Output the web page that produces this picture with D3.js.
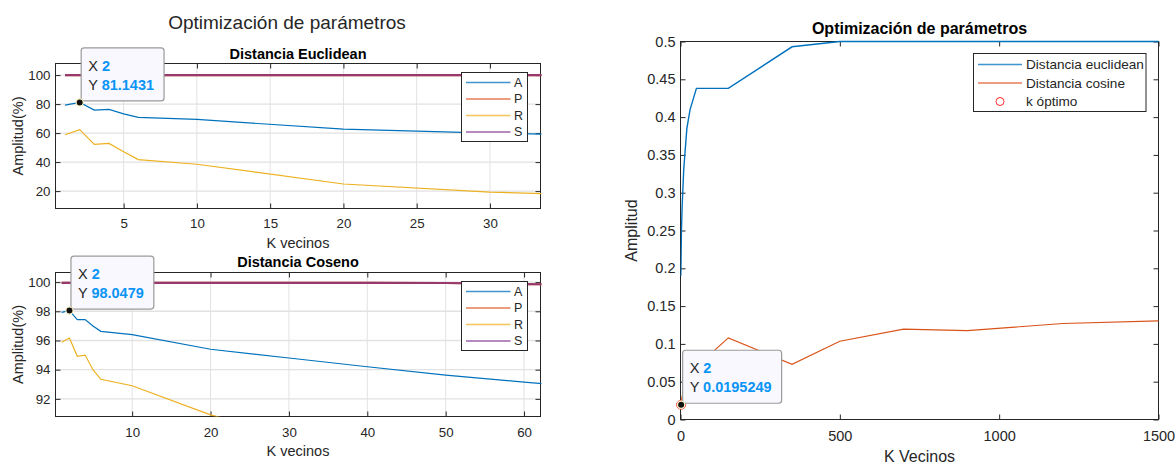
<!DOCTYPE html>
<html>
<head>
<meta charset="utf-8">
<script src="https://cdn.jsdelivr.net/npm/d3@7"></script>
<style>
  body { margin: 0; background: #fff; }
  svg text { font-family: "Liberation Sans", Arial, sans-serif; fill: #262626; }
</style>
</head>
<body>
<svg id="chart" width="1175" height="466"></svg>
<script>
// ---- data ----
// top left: Distancia Euclidean
var kEuc = [1, 2, 3, 4, 5, 6, 10, 20, 30, 40];
var eucA = [79.3, 81.1431, 75.9, 76.3, 73.3, 70.8, 69.4, 62.7, 60.0, 58.0];
var eucP = [100, 100, 100, 100, 100, 100, 100, 100, 100, 100];
var eucR = [58.9, 62.4, 52.2, 52.9, 47.2, 41.7, 38.5, 24.9, 19.3, 16.5];
var eucS = [100, 100, 100, 100, 100, 100, 100, 100, 100, 100];

// bottom left: Distancia Coseno
var kCos = [1, 2, 3, 4, 5, 6, 10, 20, 30, 40, 50, 60, 70];
var cosA = [97.93, 98.0479, 97.43, 97.43, 97.0, 96.63, 96.4, 95.4, 94.8, 94.2, 93.62, 93.15, 92.7];
var cosP = [99.95, 99.95, 99.95, 99.95, 99.95, 99.95, 99.95, 99.95, 99.95, 99.95, 99.94, 99.87, 99.8];
var cosR = [95.88, 96.17, 94.92, 95.0, 94.0, 93.34, 92.9, 90.9, 89.5, 88.4, 87.5, 86.8, 86.2];
var cosS = [99.95, 99.95, 99.95, 99.95, 99.95, 99.95, 99.95, 99.95, 99.95, 99.95, 99.94, 99.87, 99.8];

// right: Optimizacion de parametros
var kAll = [1, 2, 3, 5, 10, 20, 30, 50, 150, 350, 500, 700, 900, 1200, 1500];
var ampEuclid = [0.19, 0.22, 0.25, 0.28, 0.33, 0.385, 0.41, 0.438, 0.438, 0.493, 0.5, 0.5, 0.5, 0.5, 0.5];
var ampCosine = [0.021, 0.0195249, 0.024, 0.03, 0.04, 0.05, 0.06, 0.07, 0.108, 0.0731, 0.1035, 0.1195, 0.1175, 0.127, 0.1305];
var kOpt = 2, ampOpt = 0.0195249;

// tick labels
var topXTicks = [5, 10, 15, 20, 25, 30];
var topYTicks = [20, 40, 60, 80, 100];
var botXTicks = [10, 20, 30, 40, 50, 60];
var botYTicks = [92, 94, 96, 98, 100];
var rightXTicks = [0, 500, 1000, 1500];
var rightYTicks = [0, 0.05, 0.1, 0.15, 0.2, 0.25, 0.3, 0.35, 0.4, 0.45, 0.5];
var legendNames = ["A", "P", "R", "S"];

var colors = { A: "#0072BD", P: "#D95319", R: "#EDB120", S: "#7E2F8E" };
var ink = "#262626";

var svg = d3.select("#chart");

function drawPanel(o) {
  var g = svg.append("g");
  var x = d3.scaleLinear().domain(o.xDomain).range([o.x0, o.x1]);
  var y = d3.scaleLinear().domain(o.yDomain).range([o.y1, o.y0]);

  if (o.grid) {
    g.append("g").selectAll("line").data(o.xTicks).join("line")
      .attr("x1", function(d) { return x(d); }).attr("x2", function(d) { return x(d); })
      .attr("y1", o.y0).attr("y2", o.y1)
      .attr("stroke", "#e2e2e2").attr("stroke-width", 1);
    g.append("g").selectAll("line").data(o.yTicks).join("line")
      .attr("y1", function(d) { return y(d); }).attr("y2", function(d) { return y(d); })
      .attr("x1", o.x0).attr("x2", o.x1)
      .attr("stroke", "#e2e2e2").attr("stroke-width", 1.4);
  }

  var fmt = o.fmt || function(d) { return d; };
  function styleAxis(a) {
    a.select(".domain").remove();
    a.attr("font-family", null).attr("font-size", o.tickFont).attr("color", ink);
  }
  g.append("g").attr("transform", "translate(0," + o.y1 + ")")
    .call(d3.axisBottom(x).tickValues(o.xTicks).tickSize(-o.tick).tickPadding(o.xPad).tickFormat(fmt))
    .call(styleAxis);
  g.append("g").attr("transform", "translate(0," + o.y0 + ")")
    .call(d3.axisTop(x).tickValues(o.xTicks).tickSize(-o.tick).tickFormat(""))
    .call(styleAxis);
  g.append("g").attr("transform", "translate(" + o.x0 + ",0)")
    .call(d3.axisLeft(y).tickValues(o.yTicks).tickSize(-o.tick).tickPadding(o.yPad).tickFormat(o.yFmt || fmt))
    .call(styleAxis);
  g.append("g").attr("transform", "translate(" + o.x1 + ",0)")
    .call(d3.axisRight(y).tickValues(o.yTicks).tickSize(-o.tick).tickFormat(""))
    .call(styleAxis);

  g.append("rect")
    .attr("x", o.x0).attr("y", o.y0)
    .attr("width", o.x1 - o.x0).attr("height", o.y1 - o.y0)
    .attr("fill", "none").attr("stroke", ink).attr("stroke-width", 1);

  var clipId = "clip" + Math.round(o.y0) + "_" + Math.round(o.x0);
  svg.append("clipPath").attr("id", clipId).append("rect")
    .attr("x", o.x0).attr("y", o.y0 - 1.5)
    .attr("width", o.x1 - o.x0 + 1).attr("height", o.y1 - o.y0 + 1.5);

  var lines = g.append("g").attr("clip-path", "url(#" + clipId + ")");
  o.series.forEach(function(s) {
    var line = d3.line().x(function(d, i) { return x(o.k[i]); }).y(function(d) { return y(d); });
    lines.append("path").datum(s.values)
      .attr("d", line)
      .attr("fill", "none")
      .attr("stroke", s.color)
      .attr("stroke-width", s.width || 1.2)
      .attr("stroke-opacity", s.opacity || 1);
  });

  // titles
  g.append("text").attr("x", (o.x0 + o.x1) / 2).attr("y", o.titleY)
    .attr("text-anchor", "middle").attr("dominant-baseline", "central")
    .attr("font-weight", "bold").attr("font-size", o.titleFont).style("fill", "#000")
    .text(o.title);
  g.append("text").attr("x", (o.x0 + o.x1) / 2).attr("y", o.xLabelY)
    .attr("text-anchor", "middle").attr("dominant-baseline", "central")
    .attr("font-size", o.labelFont)
    .text(o.xLabel);
  g.append("text")
    .attr("transform", "translate(" + o.yLabelX + "," + ((o.y0 + o.y1) / 2) + ") rotate(-90)")
    .attr("text-anchor", "middle").attr("dominant-baseline", "central")
    .attr("font-size", o.labelFont)
    .text(o.yLabel);

  return { g: g, x: x, y: y };
}

function drawLegend(g, lx, ly, w, h, names, cols, rowY, lineX0, lineX1, textX, fontSize) {
  g.append("rect").attr("x", lx).attr("y", ly).attr("width", w).attr("height", h)
    .attr("fill", "#fff").attr("stroke", ink).attr("stroke-width", 1);
  names.forEach(function(n, i) {
    var yy = ly + rowY[i];
    if (cols[i] === "marker") {
      g.append("circle").attr("cx", (lineX0 + lineX1) / 2).attr("cy", yy).attr("r", 4)
        .attr("fill", "none").attr("stroke", "#ff2a2a").attr("stroke-width", 1);
    } else {
      g.append("line").attr("x1", lineX0).attr("x2", lineX1).attr("y1", yy).attr("y2", yy)
        .attr("stroke", cols[i]).attr("stroke-width", 1.5).attr("stroke-opacity", 0.75);
    }
    g.append("text").attr("x", textX).attr("y", yy).attr("dominant-baseline", "central")
      .attr("font-size", fontSize).text(n);
  });
}

function drawTip(g, px, py, xv, yv) {
  var tip = g.append("g");
  var box = tip.append("rect");
  var t1 = tip.append("text").attr("font-size", 14.5).attr("dominant-baseline", "central");
  t1.append("tspan").text("X ");
  t1.append("tspan").attr("font-weight", "bold").style("fill", "#0a94f5").text(xv);
  var t2 = tip.append("text").attr("font-size", 14.5).attr("dominant-baseline", "central");
  t2.append("tspan").text("Y ");
  t2.append("tspan").attr("font-weight", "bold").style("fill", "#0a94f5").text(yv);
  var bw = 7 + Math.max(t1.node().getComputedTextLength(), t2.node().getComputedTextLength()) + 10;
  var bh = 53;
  var bx = px + 1.5, by = py - 1.5 - bh;
  box.attr("x", bx).attr("y", by).attr("width", bw).attr("height", bh).attr("rx", 3)
    .attr("fill", "#f8f8fe").attr("stroke", "#9a9a9a").attr("stroke-width", 1.2);
  t1.attr("x", bx + 7).attr("y", by + 18);
  t2.attr("x", bx + 7).attr("y", by + 37);
  tip.append("circle").attr("cx", px).attr("cy", py).attr("r", 3.6)
    .attr("fill", "#111").attr("stroke", "#fff8c8").attr("stroke-width", 1.2);
}

// supertitle for left figure
svg.append("text").attr("x", 287).attr("y", 22)
  .attr("text-anchor", "middle").attr("dominant-baseline", "central")
  .attr("font-size", 19).text("Optimización de parámetros");

// top left panel
var pTop = drawPanel({
  x0: 55.5, x1: 540.5, y0: 63.5, y1: 208.5,
  xDomain: [0.35, 33.45], yDomain: [8, 108],
  xTicks: topXTicks, yTicks: topYTicks, grid: true, tick: 5,
  tickFont: 13.3, xPad: 10, yPad: 5,
  k: kEuc,
  series: [
    { values: eucA, color: colors.A },
    { values: eucP, color: colors.P, width: 2.2 },
    { values: eucR, color: colors.R },
    { values: eucS, color: colors.S, width: 2.2, opacity: 0.72 }
  ],
  title: "Distancia Euclidean", titleY: 54, titleFont: 14.5,
  xLabel: "K vecinos", xLabelY: 242.5, labelFont: 14.5,
  yLabel: "Amplitud(%)", yLabelX: 18
});
drawLegend(pTop.g, 461.5, 72.5, 66, 69, legendNames,
  [colors.A, colors.P, colors.R, colors.S], [10, 26.5, 43, 59.5], 466, 510.5, 514, 12.5);
drawTip(pTop.g, pTop.x(kEuc[1]), pTop.y(eucA[1]), "2", "81.1431");

// bottom left panel
var pBot = drawPanel({
  x0: 55.5, x1: 540.5, y0: 272.5, y1: 416.5,
  xDomain: [0.22, 62.1], yDomain: [90.79, 100.66],
  xTicks: botXTicks, yTicks: botYTicks, grid: true, tick: 5,
  tickFont: 13.3, xPad: 11, yPad: 5,
  k: kCos,
  series: [
    { values: cosA, color: colors.A },
    { values: cosP, color: colors.P, width: 2.2 },
    { values: cosR, color: colors.R },
    { values: cosS, color: colors.S, width: 2.2, opacity: 0.72 }
  ],
  title: "Distancia Coseno", titleY: 262, titleFont: 14.5,
  xLabel: "K vecinos", xLabelY: 451, labelFont: 14.5,
  yLabel: "Amplitud(%)", yLabelX: 18
});
drawLegend(pBot.g, 461.5, 281.5, 66, 69, legendNames,
  [colors.A, colors.P, colors.R, colors.S], [10, 26.5, 43, 59.5], 466, 510.5, 514, 12.5);
drawTip(pBot.g, pBot.x(kCos[1]), pBot.y(cosA[1]), "2", "98.0479");

// right panel
var pRight = drawPanel({
  x0: 680.5, x1: 1158.5, y0: 41.5, y1: 419.5,
  xDomain: [0, 1500], yDomain: [0, 0.5],
  xTicks: rightXTicks, yTicks: rightYTicks, grid: false, tick: 5,
  tickFont: 14.5, xPad: 11, yPad: 5,
  yFmt: function(d) { return String(+d.toFixed(2)); },
  k: kAll,
  series: [
    { values: ampEuclid, color: colors.A, width: 1.4 },
    { values: ampCosine, color: colors.P }
  ],
  title: "Optimización de parámetros", titleY: 28, titleFont: 16,
  xLabel: "K Vecinos", xLabelY: 456, labelFont: 16,
  yLabel: "Amplitud", yLabelX: 631
});
pRight.g.append("circle").attr("cx", pRight.x(kOpt)).attr("cy", pRight.y(ampOpt)).attr("r", 4.5)
  .attr("fill", "none").attr("stroke", "#ff3b3b").attr("stroke-width", 1);
drawLegend(pRight.g, 973.5, 53.5, 172.5, 58,
  ["Distancia euclidean", "Distancia cosine", "k óptimo"],
  [colors.A, colors.P, "marker"], [11, 29.5, 48], 978, 1022, 1026, 13.6);
drawTip(pRight.g, pRight.x(kOpt), pRight.y(ampOpt), "2", "0.0195249");
</script>
</body>
</html>
